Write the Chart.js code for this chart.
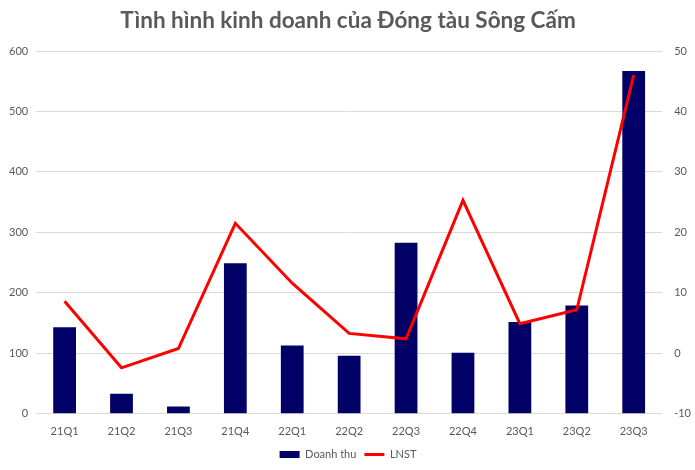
<!DOCTYPE html>
<html>
<head>
<meta charset="utf-8">
<script src="https://cdn.jsdelivr.net/npm/chart.js@4"></script>
<style>
    html, body { margin: 0; padding: 0; background: #fff; }
    #wrap { width: 695px; height: 470px; }
</style>
</head>
<body>
<div id="wrap"><canvas id="chart"></canvas></div>
<script>
// quarters
const labels = ['21Q1', '21Q2', '21Q3', '21Q4', '22Q1', '22Q2', '22Q3', '22Q4', '23Q1', '23Q2', '23Q3'];
// revenue (left axis)
const doanhThu = [143, 33, 12, 249, 113, 96, 283, 101, 152, 179, 567];
// net profit (right axis)
const lnst = [8.6, -2.4, 0.8, 21.5, 11.6, 3.3, 2.4, 25.3, 4.9, 7.2, 46];

const textColor = '#595959';
const fontFamily = 'Lato, "Open Sans", sans-serif';

const ctx = document.getElementById('chart').getContext('2d');
new Chart(ctx, {
    type: 'bar',
    data: {
        labels: labels,
        datasets: [
            {
                type: 'line',
                label: 'LNST',
                data: lnst,
                yAxisID: 'y1',
                borderColor: '#ff0000',
                backgroundColor: '#ff0000',
                borderWidth: 3,
                pointRadius: 0,
                pointStyle: 'line',
                tension: 0,
                order: 1
            },
            {
                label: 'Doanh thu',
                data: doanhThu,
                yAxisID: 'y',
                backgroundColor: '#000066',
                pointStyle: 'rect',
                barPercentage: 0.4,
                categoryPercentage: 1,
                order: 2
            }
        ]
    },
    options: {
        responsive: true,
        maintainAspectRatio: false,
        animation: false,
        layout: { padding: { left: 1, right: 0, top: 0, bottom: 0 } },
        plugins: {
            title: {
                display: true,
                text: 'Tình hình kinh doanh của Đóng tàu Sông Cấm',
                color: textColor,
                font: { family: fontFamily, size: 22.5, weight: 'bold' },
                padding: { top: 7, bottom: 17 }
            },
            legend: {
                position: 'bottom',
                reverse: true,
                labels: {
                    color: textColor,
                    font: { family: fontFamily, size: 11 },
                    usePointStyle: true,
                    pointStyleWidth: 20,
                    boxHeight: 7,
                    padding: 8
                }
            },
            tooltip: { enabled: false }
        },
        scales: {
            x: {
                grid: { display: false },
                border: { display: false },
                ticks: { color: textColor, font: { family: fontFamily, size: 11 }, padding: 3 }
            },
            y: {
                position: 'left',
                min: 0,
                max: 600,
                ticks: { stepSize: 100, color: textColor, font: { family: fontFamily, size: 11 }, padding: 8 },
                grid: { color: '#d9d9d9', drawTicks: false },
                border: { display: false }
            },
            y1: {
                position: 'right',
                min: -10,
                max: 50,
                ticks: { stepSize: 10, color: textColor, font: { family: fontFamily, size: 11 }, padding: 4 },
                grid: { display: false },
                border: { display: false }
            }
        }
    }
});
</script>
</body>
</html>
